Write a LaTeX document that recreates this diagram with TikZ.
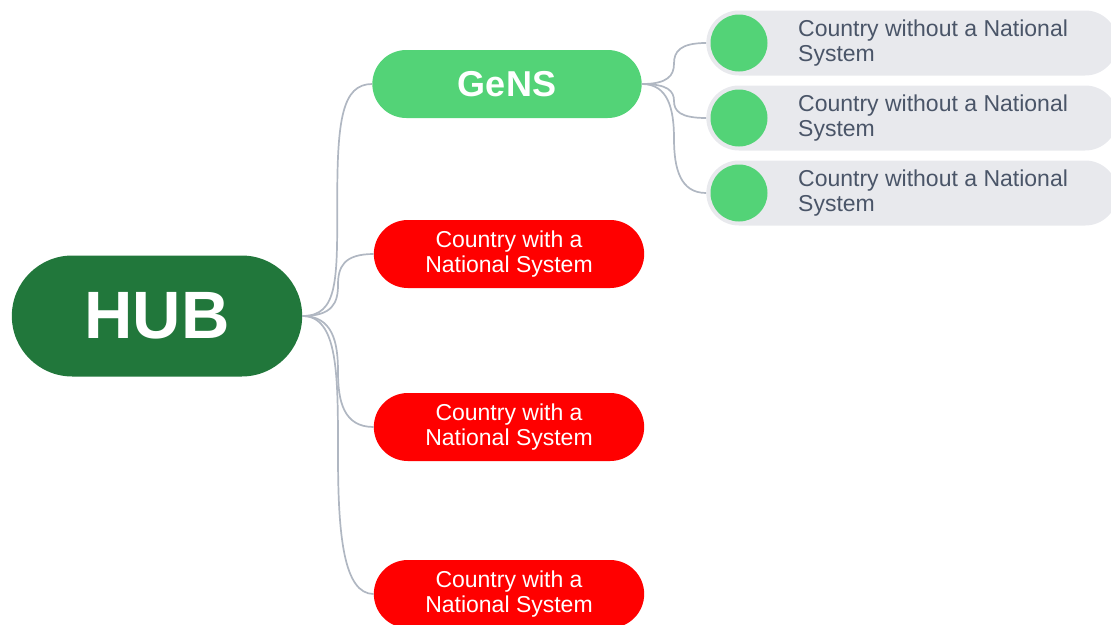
\documentclass[tikz,border=0pt]{standalone}
\usepackage{fontspec}
\setmainfont{Liberation Sans}
\usetikzlibrary{shapes.misc, calc}
\definecolor{hubgreen}{RGB}{33,119,59}
\definecolor{gensgreen}{RGB}{83,211,119}
\definecolor{natred}{RGB}{255,0,0}
\definecolor{pillgray}{RGB}{232,233,237}
\definecolor{textgray}{RGB}{74,85,104}
\definecolor{linkgray}{RGB}{176,183,194}
\tikzset{hubnode/.style={rounded rectangle, fill=hubgreen, text=white, minimum width=297pt, minimum height=121pt, font=\fontsize{67}{76}\selectfont\bfseries}}
\tikzset{gensnode/.style={rounded rectangle, fill=gensgreen, text=white, minimum width=276pt, minimum height=68pt, font=\fontsize{36}{40}\selectfont\bfseries}}
\tikzset{natnode/.style={rounded rectangle, fill=natred, text=white, minimum width=277pt, minimum height=68pt, align=center, font=\fontsize{23}{25}\selectfont}}
\tikzset{nonatnode/.style={rounded rectangle, fill=pillgray, minimum width=418pt, minimum height=65pt}}
\tikzset{dotnode/.style={circle, fill=gensgreen, minimum size=57pt, inner sep=0pt}}
\tikzset{nonattext/.style={anchor=west, align=left, text=textgray, inner sep=0pt, font=\fontsize{23}{25}\selectfont}}
\tikzset{link/.style={draw=linkgray, line width=1.7pt}}

\begin{document}
\begin{tikzpicture}[x=1pt, y=-1pt]
\useasboundingbox (0,0) rectangle (1111,624);

% nodes
\node [style = hubnode] (hub) at (157, 316) {HUB};
\node [style = gensnode] (gens) at (507, 84) {GeNS};
\node [style = natnode] (nat1) at (509, 254) {Country with a\\National System};
\node [style = natnode] (nat2) at (509, 427) {Country with a\\National System};
\node [style = natnode] (nat3) at (509, 594) {Country with a\\National System};

\node [style = nonatnode] (nonat1) at (912, 43) {};
\node [style = nonatnode] (nonat2) at (912, 118) {};
\node [style = nonatnode] (nonat3) at (912, 193) {};
\node [style = dotnode] (dot1) at (739, 43) {};
\node [style = dotnode] (dot2) at (739, 118) {};
\node [style = dotnode] (dot3) at (739, 193) {};
\node [style = nonattext] (txt1) at (798, 43) {Country without a National\\System};
\node [style = nonattext] (txt2) at (798, 118) {Country without a National\\System};
\node [style = nonattext] (txt3) at (798, 193) {Country without a National\\System};

% edges
\draw [link] (hub.east) .. controls +(36,0) and +(0,80) .. ($(hub.east)!0.5!(gens.west)$) .. controls +(0,-80) and +(-30,0) .. (gens.west);
\draw [link] (hub.east) .. controls +(30,0) and +(0,18) .. ($(hub.east)!0.5!(nat1.west)$) .. controls +(0,-18) and +(-30,0) .. (nat1.west);
\draw [link] (hub.east) .. controls +(30,0) and +(0,-30) .. ($(hub.east)!0.5!(nat2.west)$) .. controls +(0,30) and +(-30,0) .. (nat2.west);
\draw [link] (hub.east) .. controls +(36,0) and +(0,-80) .. ($(hub.east)!0.5!(nat3.west)$) .. controls +(0,80) and +(-30,0) .. (nat3.west);
\draw [link] (gens.east) .. controls +(26,0) and +(0,12) .. ($(gens.east)!0.5!(nonat1.west)$) .. controls +(0,-12) and +(-26,0) .. (nonat1.west);
\draw [link] (gens.east) .. controls +(26,0) and +(0,-10) .. ($(gens.east)!0.5!(nonat2.west)$) .. controls +(0,10) and +(-26,0) .. (nonat2.west);
\draw [link] (gens.east) .. controls +(26,0) and +(0,-30) .. ($(gens.east)!0.5!(nonat3.west)$) .. controls +(0,30) and +(-26,0) .. (nonat3.west);
\end{tikzpicture}
\end{document}
